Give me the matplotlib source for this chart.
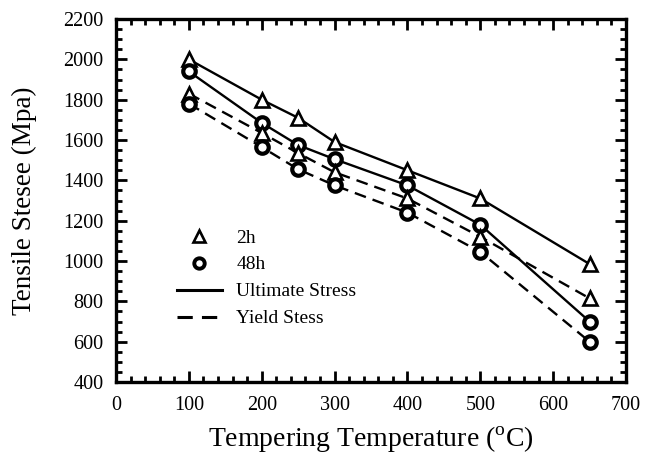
import matplotlib
matplotlib.use("Agg")
import matplotlib.pyplot as plt
from matplotlib.lines import Line2D
from matplotlib.ticker import MultipleLocator

plt.rcParams['font.family'] = ['Liberation Serif', 'DejaVu Serif']
plt.rcParams['mathtext.fontset'] = 'custom'
plt.rcParams['mathtext.rm'] = 'Liberation Serif'

# --- Data ---
temps = [100, 200, 250, 300, 400, 500, 650]

ult_2h    = [2000, 1800, 1710, 1590, 1450, 1310, 985]
ult_48h   = [1940, 1685, 1575, 1505, 1375, 1180, 700]
yield_2h  = [1830, 1635, 1535, 1440, 1310, 1120, 815]
yield_48h = [1780, 1565, 1455, 1375, 1240, 1045, 600]

legend_labels = ["2h", "48h", "Ultimate Stress", "Yield Stess"]

# --- Plot ---
fig = plt.figure(figsize=(6.46, 4.54), dpi=100)
ax = fig.add_axes([0.1796, 0.1586, 0.7894, 0.7995])

tri = dict(marker='^', markersize=10, markerfacecolor='white',
           markeredgecolor='black', markeredgewidth=1.9)
circ = dict(marker='o', markersize=9, markerfacecolor='white',
            markeredgecolor='black', markeredgewidth=3.0)
dash = (0, (5, 3))

ax.plot(temps, ult_2h, color='black', lw=1.7, **tri)
ax.plot(temps, ult_48h, color='black', lw=1.7, **circ)
ax.plot(temps, yield_2h, color='black', lw=1.7, linestyle=dash, **tri)
ax.plot(temps, yield_48h, color='black', lw=1.7, linestyle=dash, **circ)

ax.set_xlim(0, 700)
ax.set_ylim(400, 2200)
ax.xaxis.set_major_locator(MultipleLocator(100))
ax.xaxis.set_minor_locator(MultipleLocator(20))
ax.yaxis.set_major_locator(MultipleLocator(200))
ax.yaxis.set_minor_locator(MultipleLocator(50))

for s in ax.spines.values():
    s.set_linewidth(2.4)
ax.tick_params(which='both', direction='in', top=True, right=True,
               labelsize=14.5, width=2.0)
ax.tick_params(which='major', length=8)
ax.tick_params(which='minor', length=4.5)
ax.tick_params(axis='y', pad=9)
ax.tick_params(axis='x', pad=10)

ax.set_ylabel("Tensile Stesee (Mpa)", fontsize=19.5, labelpad=19)
ax.set_xlabel(r"Tempering Temperature ($^{\rm o}$C)", fontsize=20, labelpad=7)

handles = [
    Line2D([], [], linestyle='none', marker='^', markersize=8,
           markerfacecolor='white', markeredgecolor='black', markeredgewidth=1.9),
    Line2D([], [], linestyle='none', marker='o', markersize=7.5,
           markerfacecolor='white', markeredgecolor='black', markeredgewidth=2.8),
    Line2D([], [], color='black', lw=2.2),
    Line2D([], [], color='black', lw=2.2, linestyle=dash),
]
ax.legend(handles, legend_labels, loc='upper left', bbox_to_anchor=(0.085, 0.47),
          frameon=False, fontsize=14, handlelength=2.3, handletextpad=0.75,
          labelspacing=0.48, borderpad=0.4)

fig.savefig("out.png", dpi=100)
